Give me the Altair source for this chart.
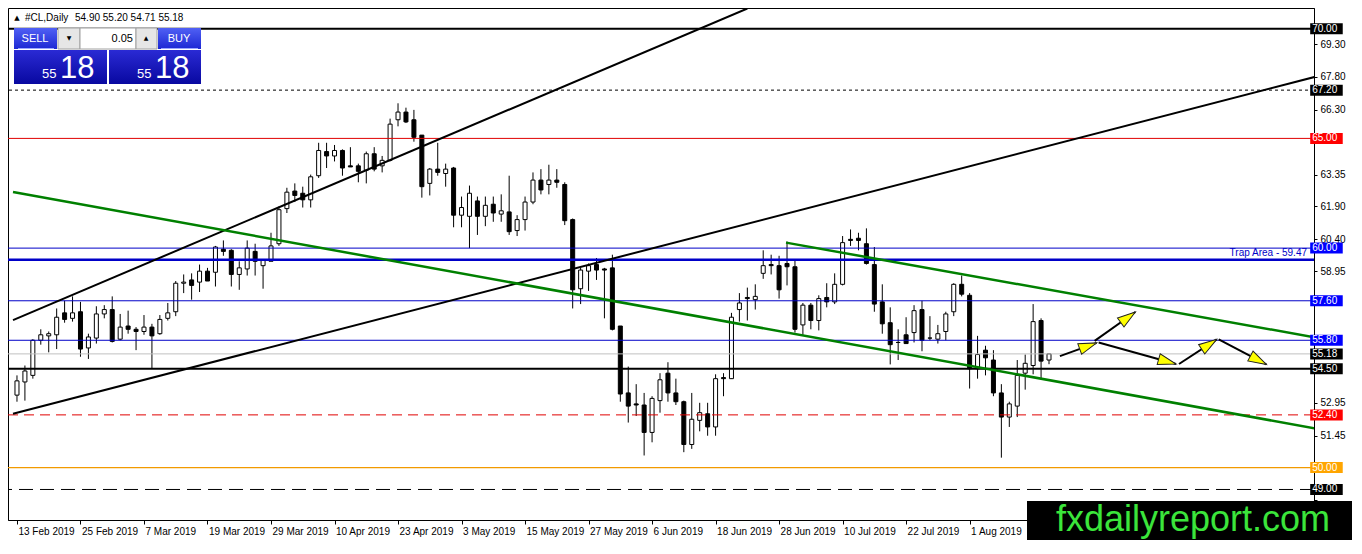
import math
import altair as alt
import pandas as pd

# ---------------- data ----------------
opens = [53.30, 53.90, 54.20, 55.80, 56.00, 56.05, 57.05, 56.80, 57.10, 55.45,
         55.90, 57.00, 57.20, 55.85, 56.45, 56.30, 56.20, 56.40, 56.10, 56.80,
         57.10, 58.40, 58.55, 58.45, 58.95, 58.90, 59.95, 59.90, 58.80, 59.05,
         59.85, 59.20, 59.40, 60.20, 61.80, 62.60, 62.50, 62.20, 63.30, 64.40,
         64.20, 64.45, 63.75, 63.75, 63.55, 64.30, 63.75, 64.00, 65.85, 66.20,
         65.85, 65.15, 62.95, 63.60, 63.40, 63.65, 61.50, 61.45, 62.15, 61.45,
         62.00, 61.55, 61.65, 60.80, 61.30, 62.10, 63.10, 62.90, 63.10, 62.90,
         61.30, 58.15, 58.95, 59.25, 59.05, 59.10, 56.45, 53.40, 52.90, 52.85,
         51.60, 53.05, 54.30, 53.40, 53.00, 51.05, 52.15, 52.45, 51.85, 54.10,
         54.05, 57.20, 57.75, 57.65, 58.85, 59.25, 59.20, 59.30, 59.15, 56.50,
         57.40, 56.70, 57.75, 57.55, 58.35, 60.40, 60.45, 60.20, 59.25, 57.55,
         56.60, 55.70, 56.05, 56.15, 57.20, 55.90, 55.85, 56.20, 57.10, 58.35,
         57.85, 54.50, 55.35, 54.90, 53.40, 52.30, 52.80, 54.30, 54.65, 56.70,
         54.90]
highs = [54.20, 54.65, 55.85, 56.30, 56.20, 57.25, 57.60, 57.80, 57.55, 56.10,
         57.35, 57.40, 57.80, 57.00, 57.15, 56.40, 56.95, 56.55, 56.95, 57.50,
         58.50, 58.80, 58.85, 59.25, 59.10, 60.10, 60.35, 59.95, 59.40, 60.35,
         60.20, 59.45, 60.70, 61.90, 62.75, 62.95, 62.80, 63.35, 64.80, 64.80,
         64.70, 64.50, 64.60, 63.85, 64.40, 64.60, 64.20, 65.90, 66.60, 66.40,
         66.30, 65.15, 63.65, 64.80, 63.85, 63.70, 62.35, 62.85, 62.35, 62.35,
         62.35, 62.45, 63.30, 61.50, 62.35, 63.45, 63.60, 63.80, 63.60, 63.00,
         61.35, 59.10, 59.30, 59.55, 59.10, 59.70, 56.45, 54.60, 53.80, 53.40,
         53.25, 54.30, 54.80, 54.05, 53.05, 53.40, 52.95, 52.95, 54.25, 54.30,
         57.05, 57.95, 58.20, 58.35, 59.90, 59.70, 59.65, 60.30, 59.45, 57.50,
         57.50, 57.85, 58.40, 58.85, 60.55, 60.85, 60.70, 60.90, 60.05, 58.35,
         57.30, 56.30, 56.85, 57.40, 57.60, 56.90, 56.50, 57.10, 58.40, 58.75,
         57.95, 56.00, 55.55, 55.35, 53.80, 53.00, 54.90, 55.15, 57.45, 56.80,
         55.20]
lows = [53.00, 53.05, 54.05, 55.60, 55.25, 55.40, 56.60, 56.65, 55.05, 54.95,
        55.65, 56.80, 55.70, 55.80, 56.10, 55.35, 56.05, 54.50, 56.05, 56.70,
        56.90, 57.95, 57.65, 58.00, 58.50, 58.25, 59.65, 58.25, 58.10, 58.75,
        58.75, 58.15, 59.40, 60.10, 61.60, 62.10, 61.85, 61.85, 63.20, 63.65,
        63.95, 63.30, 63.70, 63.00, 62.95, 63.50, 63.45, 63.95, 65.55, 65.70,
        64.85, 62.30, 62.40, 63.30, 62.80, 60.95, 60.95, 60.00, 60.60, 61.00,
        61.20, 61.20, 60.60, 60.55, 60.80, 62.00, 62.45, 62.45, 62.75, 61.05,
        57.25, 57.45, 58.05, 58.55, 56.80, 56.25, 53.00, 52.05, 52.35, 50.55,
        51.15, 52.50, 53.00, 52.85, 50.70, 50.85, 51.65, 51.45, 51.45, 53.25,
        54.05, 56.65, 56.70, 57.20, 58.60, 58.80, 57.70, 58.30, 56.15, 56.05,
        56.30, 56.25, 57.30, 57.45, 58.30, 60.10, 59.90, 59.25, 57.10, 56.10,
        54.70, 54.90, 55.65, 55.70, 55.30, 55.80, 55.65, 55.80, 56.90, 57.80,
        53.60, 54.05, 54.20, 53.25, 50.45, 51.85, 52.30, 53.55, 54.25, 54.00,
        54.71]
closes = [53.95, 54.40, 55.80, 56.05, 56.10, 56.85, 56.75, 57.05, 55.40, 55.95,
          57.00, 57.20, 55.75, 56.40, 56.30, 56.20, 56.40, 56.00, 56.75, 57.05,
          58.40, 58.45, 58.30, 58.95, 58.50, 60.05, 59.85, 58.80, 59.10, 60.00,
          59.40, 59.45, 60.10, 61.75, 62.55, 62.40, 62.20, 63.25, 64.45, 64.20,
          64.45, 63.65, 63.70, 63.50, 64.30, 63.60, 64.00, 65.65, 66.20, 65.75,
          65.05, 62.80, 63.60, 63.45, 63.60, 61.50, 61.85, 62.50, 61.45, 61.95,
          61.60, 61.70, 60.75, 61.30, 62.10, 63.10, 62.65, 63.10, 63.00, 61.25,
          58.10, 59.00, 59.20, 59.00, 59.00, 56.30, 53.35, 52.80, 52.85, 51.60,
          53.15, 54.00, 53.40, 53.00, 51.05, 52.20, 52.50, 51.85, 54.05, 54.05,
          56.85, 57.50, 57.70, 57.80, 59.20, 59.20, 58.10, 59.15, 56.30, 57.40,
          56.70, 57.70, 57.55, 58.35, 60.25, 60.35, 60.35, 59.30, 57.45, 56.55,
          55.60, 55.70, 55.65, 57.15, 55.80, 55.90, 56.10, 57.00, 58.35, 57.90,
          54.50, 55.15, 55.00, 53.40, 52.30, 52.90, 54.20, 54.75, 56.65, 54.85,
          55.18]

date_ticks = [0, 8, 16, 24, 32, 40, 48, 56, 64, 72, 80, 88, 96, 104, 112, 120]
date_labels = ["13 Feb 2019", "25 Feb 2019", "7 Mar 2019", "19 Mar 2019",
               "29 Mar 2019", "10 Apr 2019", "23 Apr 2019", "3 May 2019",
               "15 May 2019", "27 May 2019", "6 Jun 2019", "18 Jun 2019",
               "28 Jun 2019", "10 Jul 2019", "22 Jul 2019", "1 Aug 2019"]

price_ticks = [69.30, 67.80, 66.30, 64.85, 63.35, 61.90, 60.40, 58.95,
               57.45, 56.00, 54.50, 52.95, 51.45, 50.00, 48.50]

level_prices = [70.00, 67.20, 65.00, 60.00, 59.47, 57.60, 55.80, 55.18,
                54.50, 52.40, 50.00, 49.00]
level_kinds = ["black_thick", "black_dot", "red", "blue", "blue_thick", "blue",
               "blue", "grey", "black_thick", "red_dash", "orange", "black_dash"]

tag_prices = [70.00, 67.20, 65.00, 60.00, 57.60, 55.80, 55.18, 54.50,
              52.40, 50.00, 49.00]
tag_texts = ["70.00", "67.20", "65.00", "60.00", "57.60", "55.80", "55.18",
             "54.50", "52.40", "50.00", "49.00"]
tag_kinds = ["black", "black", "red", "blue", "blue", "blue", "black", "black",
             "red", "orange", "black"]

# trend lines: (bar index, price) end points
black_steep_bars = [-0.5, 92.0]
black_steep_prices = [56.72, 70.92]
black_long_bars = [-0.5, 164.75]
black_long_prices = [52.45, 67.92]
green_long_bars = [-0.5, 164.75]
green_long_prices = [62.56, 51.70]
green_short_bars = [96.875, 164.75]
green_short_prices = [60.25, 55.85]

# projected path arrows: start and tip (bar index, price)
arrow_start_bars = [131.375, 135.75, 136.25, 146.375, 151.375]
arrow_start_prices = [55.08, 55.77, 55.70, 54.72, 55.84]
arrow_tip_bars = [136.0, 140.875, 146.0, 151.125, 157.375]
arrow_tip_prices = [55.68, 57.09, 54.72, 55.84, 54.70]

# ---------------- layout ----------------
W, H = 1306, 512
XDOM = [-0.5, 162.75]
YDOM = [47.837, 70.715]
PXB = W / (XDOM[1] - XDOM[0])
PXP = H / (YDOM[1] - YDOM[0])
FONT = "Liberation Sans"

XS = alt.Scale(domain=XDOM, nice=False, zero=False)
YS = alt.Scale(domain=YDOM, nice=False, zero=False)

label_expr = "[" + ",".join("'%s'" % s for s in date_labels) + "][round(datum.value/8)]"
# price-axis labels hidden behind the coloured price tags / the watermark box
hidden = [t for t in price_ticks if any(abs(t - p) < 0.3 for p in tag_prices)] + [48.50]
y_label_expr = ("(" + " || ".join("abs(datum.value-%s)<0.001" % h for h in hidden)
                + ") ? '' : datum.label")

XAX = alt.Axis(values=date_ticks, labelExpr=label_expr, orient="bottom", title=None,
               grid=False, tickSize=4, tickColor="black", domainColor="black",
               labelAlign="left", labelBaseline="top", labelPadding=2, labelOffset=1,
               labelFont=FONT, labelFontSize=10, labelColor="black",
               labelOverlap=False, labelFlush=False, labelBound=False)
YAX = alt.Axis(values=price_ticks, format=".2f", labelExpr=y_label_expr, orient="right",
               title=None, grid=False, tickSize=3, tickColor="black", domainColor="black",
               labelAlign="left", labelPadding=3, labelFont=FONT, labelFontSize=10,
               labelColor="black", labelOverlap=False, labelFlush=False,
               labelBound=False)


def X(f):
    return alt.X(f, type="quantitative", scale=XS, axis=XAX)


def Y(f):
    return alt.Y(f, type="quantitative", scale=YS, axis=YAX)


candles = pd.DataFrame({"i": list(range(len(opens))), "o": opens, "h": highs,
                        "l": lows, "c": closes})
candles["dir"] = ["up" if c >= o else "down" for o, c in zip(opens, closes)]

wicks = alt.Chart(candles).mark_rule(color="black", strokeWidth=1).encode(
    x=X("i"), y=Y("l"), y2="h")
bodies = alt.Chart(candles).mark_bar(size=4, stroke="black", strokeWidth=1,
                                     orient="vertical").encode(
    x=X("i"), y=Y("o"), y2="c",
    fill=alt.Fill("dir:N", scale=alt.Scale(domain=["up", "down"],
                                           range=["white", "black"]), legend=None))

level_style = {
    "black_thick": dict(color="black", strokeWidth=2),
    "black_dot": dict(color="black", strokeWidth=1, strokeDash=[3, 3]),
    "red": dict(color="#E00000", strokeWidth=1),
    "blue": dict(color="#0000C8", strokeWidth=1),
    "blue_thick": dict(color="#0000C8", strokeWidth=2.5),
    "grey": dict(color="#C0C0C0", strokeWidth=1),
    "red_dash": dict(color="#E00000", strokeWidth=1, strokeDash=[10, 6]),
    "orange": dict(color="#F29A00", strokeWidth=1.3),
    "black_dash": dict(color="black", strokeWidth=1, strokeDash=[14, 7]),
}
level_layers = []
for p, k in zip(level_prices, level_kinds):
    level_layers.append(
        alt.Chart(pd.DataFrame({"p": [p]})).mark_rule(**level_style[k]).encode(y=Y("p")))


def seg(bars, prices, color, width):
    df = pd.DataFrame({"b": bars, "p": prices})
    return alt.Chart(df).mark_line(color=color, strokeWidth=width, clip=True).encode(
        x=X("b"), y=Y("p"))


trend_layers = [
    seg(black_steep_bars, black_steep_prices, "black", 2),
    seg(black_long_bars, black_long_prices, "black", 2),
    seg(green_long_bars, green_long_prices, "#008000", 2.5),
    seg(green_short_bars, green_short_prices, "#008000", 2.5),
]

# arrows
rows = []
heads = []
for k, (b0, p0, b1, p1) in enumerate(zip(arrow_start_bars, arrow_start_prices,
                                         arrow_tip_bars, arrow_tip_prices)):
    rows.append({"id": k, "ord": 0, "b": b0, "p": p0})
    rows.append({"id": k, "ord": 1, "b": b1, "p": p1})
    ang = math.degrees(math.atan2((b1 - b0) * PXB, (p1 - p0) * PXP)) % 360
    heads.append({"b": b1, "p": p1, "ang": ang})
arrow_lines = alt.Chart(pd.DataFrame(rows)).mark_line(color="black", strokeWidth=2).encode(
    x=X("b"), y=Y("p"), detail="id:N", order="ord:Q")
arrow_heads = alt.Chart(pd.DataFrame(heads)).mark_point(
    shape="M0,0L0.62,2L-0.62,2Z", size=324, filled=True, fill="#FFFF00",
    stroke="#202020", strokeWidth=1, opacity=1).encode(
    x=X("b"), y=Y("p"), angle=alt.Angle("ang:Q", scale=None))

# price tags on the right axis
tag_colors = {"black": "#000000", "red": "#FF0000", "blue": "#0000FF", "orange": "#FFA500"}
tags = pd.DataFrame({"p": tag_prices, "t": tag_texts,
                     "bg": [tag_colors[k] for k in tag_kinds]})
tags["x0"] = 162.9
tags["x1"] = 167.0
tag_boxes = alt.Chart(tags).mark_bar(size=11, orient="horizontal").encode(
    x=X("x0"), x2="x1", y=Y("p"), color=alt.Color("bg:N", scale=None))
tag_text = alt.Chart(tags).mark_text(align="left", baseline="middle", dx=2, font=FONT,
                                     fontSize=10, color="white").encode(
    x=X("x0"), y=Y("p"), text="t:N")

trap = alt.Chart(pd.DataFrame({"b": [162.5], "p": [59.47], "t": ["Trap Area - 59.47"]})).mark_text(
    align="right", baseline="bottom", dy=-2, font=FONT, fontSize=10, color="#0000C8").encode(
    x=X("b"), y=Y("p"), text="t:N")

# ---------------- overlays (header, trade panel, watermark) ----------------
one = pd.DataFrame({"k": [0]})


def box(x0, x1, y0, y1, **kw):
    return alt.Chart(one).mark_rect(**kw).encode(
        x=alt.value(x0), x2=alt.value(x1), y=alt.value(y0), y2=alt.value(y1))


def txt(s, x, y, **kw):
    return alt.Chart(one).mark_text(**kw).encode(
        x=alt.value(x), y=alt.value(y), text=alt.value(s))


def grad(c0, c1):
    return alt.Gradient(gradient="linear", x1=0, x2=0, y1=0, y2=1,
                        stops=[alt.GradientStop(color=c0, offset=0),
                               alt.GradientStop(color=c1, offset=1)])


overlay = [
    txt("\u25B2", 9, 10, font="DejaVu Sans", fontSize=7, color="black", baseline="middle"),
    txt("#CL,Daily", 17, 10, font=FONT, fontSize=10, color="black", align="left", baseline="middle"),
    txt("54.90 55.20 54.71 55.18", 67, 10, font=FONT, fontSize=10, color="black", align="left", baseline="middle"),
    box(6, 49, 20, 41, fill=grad("#5060f4", "#1c28d4")),
    box(150, 193, 20, 41, fill=grad("#5060f4", "#1c28d4")),
    box(50, 72, 20, 41, fill="#E6E6E6", stroke="#A0A0A0", strokeWidth=1),
    box(72, 128, 20, 41, fill="white", stroke="#A0A0A0", strokeWidth=1),
    box(128, 149, 20, 41, fill="#E6E6E6", stroke="#A0A0A0", strokeWidth=1),
    box(6, 99, 42, 76, fill=grad("#2a2ad4", "#0808a0")),
    box(101, 193, 42, 76, fill=grad("#2a2ad4", "#0808a0")),
    box(10, 46, 40, 41, fill="#9aa6ff"),
    box(153, 190, 40, 41, fill="#9aa6ff"),
    txt("SELL", 27, 31, font=FONT, fontSize=11, color="white", align="center", baseline="middle"),
    txt("BUY", 171, 31, font=FONT, fontSize=11, color="white", align="center", baseline="middle"),
    txt("\u25BC", 61, 30, font="DejaVu Sans", fontSize=6, color="black", align="center", baseline="middle"),
    txt("\u25B2", 138, 30, font="DejaVu Sans", fontSize=6, color="black", align="center", baseline="middle"),
    txt("0.05", 125, 31, font=FONT, fontSize=11, color="black", align="right", baseline="middle"),
    txt("55", 34, 70, font=FONT, fontSize=13, color="white", align="left", baseline="alphabetic"),
    txt("18", 52, 70, font=FONT, fontSize=31, color="white", align="left", baseline="alphabetic"),
    txt("55", 129, 70, font=FONT, fontSize=13, color="white", align="left", baseline="alphabetic"),
    txt("18", 147, 70, font=FONT, fontSize=31, color="white", align="left", baseline="alphabetic"),
    box(1019, 1420, 493, 600, fill="black"),
    txt("fxdailyreport.com", 1048, 523, font=FONT, fontSize=36, color="#3BE53B", align="left", baseline="alphabetic"),
]

chart = alt.layer(wicks, bodies, *level_layers, *trend_layers, arrow_lines, arrow_heads,
                  trap, tag_boxes, tag_text, *overlay).properties(
    width=W, height=H,
    autosize=alt.AutoSizeParams(type="none"),
    padding={"left": 0, "top": 0, "right": 38, "bottom": 20},
    background="white",
).configure_view(stroke="black", strokeWidth=1)

chart.save("out.html", embed_options={"renderer": "svg", "actions": False})
